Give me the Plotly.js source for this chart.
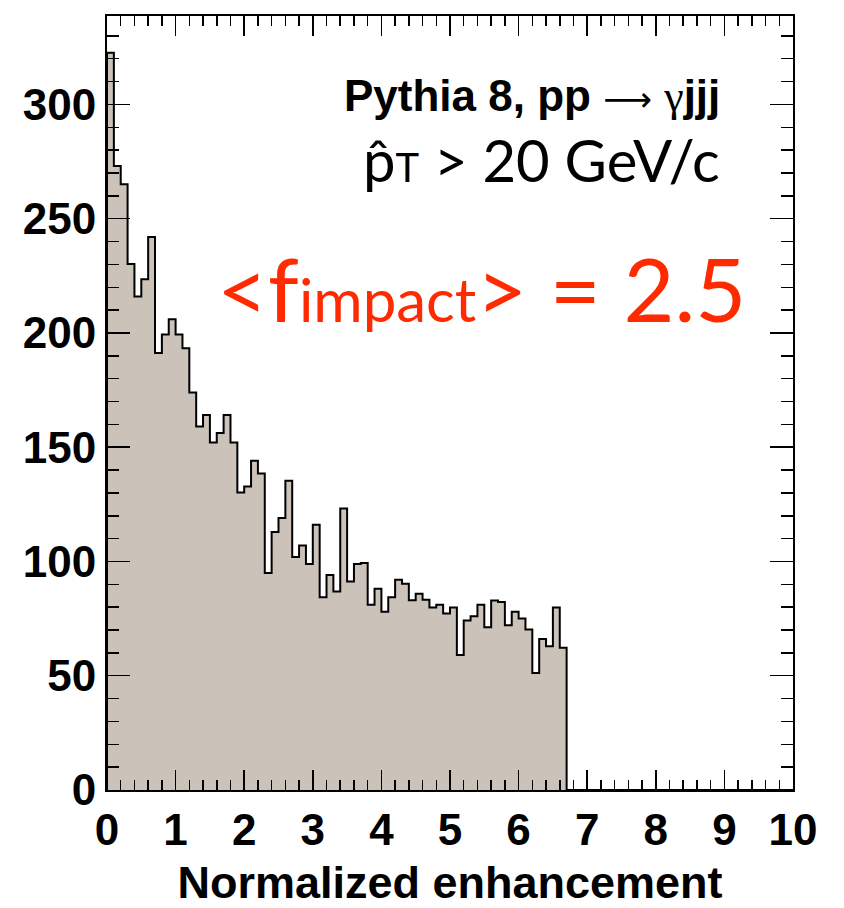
<!DOCTYPE html>
<html>
<head>
<meta charset="utf-8">
<script src="https://cdn.plot.ly/plotly-3.0.1.min.js"></script>
<style>html,body{margin:0;padding:0;background:#fff;}#chart{width:844px;height:908px;}</style>
</head>
<body>
<div id="chart"></div>
<script>
// Histogram: 100 bins of width 0.1 on [0,10]; contents of the filled bins (0 .. 6.7)
const binWidth = 0.1;
const xMin = 0;
const xMax = 10;
const counts = [
  322.6, 273.1, 265.1, 230.2, 215.9, 223.5, 242.0, 191.2, 199.3, 206.0,
  199.3, 193.3, 173.9, 159.1, 164.1, 152.1, 156.2, 164.1, 152.1, 130.2,
  132.8, 144.1, 138.5, 95.0, 112.9, 119.0, 135.3, 102.0, 107.0, 98.9,
  116.1, 84.3, 94.1, 86.9, 123.2, 91.2, 98.9, 99.3, 81.1, 88.1,
  78.0, 84.3, 92.0, 90.2, 83.0, 85.9, 83.3, 79.9, 81.1, 77.2,
  79.9, 59.1, 74.2, 76.0, 81.1, 71.2, 82.9, 82.3, 72.1, 78.0,
  75.1, 70.2, 51.2, 66.1, 62.9, 79.9, 62.2
];
const xTickVals = [0,1,2,3,4,5,6,7,8,9,10];
const xTickText = ['0','1','2','3','4','5','6','7','8','9','10'];
const yTickVals = [0,50,100,150,200,250,300];
const yTickText = ['0','50','100','150','200','250','300'];
const yMax = 338.7;

// Build step outline from bin edges
const xs = [xMin];
const ys = [0];
counts.forEach((c, i) => { xs.push(xMin + i * binWidth); ys.push(c); });
xs.push(xMin + counts.length * binWidth); ys.push(0);
xs.push(xMax); ys.push(0);

const trace = {
  type: 'scatter', mode: 'lines',
  x: xs, y: ys,
  line: {shape: 'hv', color: '#000', width: 2},
  fill: 'tozeroy', fillcolor: '#cbc3ba',
  hoverinfo: 'skip', showlegend: false
};

const tickFont = {family: 'Liberation Sans, Arial, sans-serif', size: 44, color: '#000', weight: 'bold'};

const layout = {
  width: 844, height: 908,
  margin: {l: 107, r: 51, t: 16, b: 117.5, pad: 0},
  paper_bgcolor: '#fff', plot_bgcolor: '#fff',
  showlegend: false,
  xaxis: {
    range: [xMin, xMax], tickvals: xTickVals, ticktext: xTickText,
    ticks: 'inside', ticklen: 20, tickwidth: 1.5, tickcolor: '#000',
    minor: {dtick: 0.2, ticks: 'inside', ticklen: 10, tickwidth: 1.5, tickcolor: '#000', showgrid: false},
    showline: true, linecolor: '#000', linewidth: 2, mirror: 'allticks',
    showgrid: false, zeroline: false, tickfont: tickFont,
    title: {text: 'Normalized enhancement', font: {family: 'Liberation Sans, Arial, sans-serif', size: 45, color: '#000', weight: 'bold'}, standoff: 27}
  },
  yaxis: {
    range: [0, yMax], tickvals: yTickVals, ticktext: yTickText,
    ticks: 'inside', ticklen: 23, tickwidth: 1.5, tickcolor: '#000',
    minor: {dtick: 10, ticks: 'inside', ticklen: 12, tickwidth: 1.5, tickcolor: '#000', showgrid: false},
    showline: true, linecolor: '#000', linewidth: 2, mirror: 'allticks',
    showgrid: false, zeroline: false, tickfont: tickFont
  },
  annotations: [
    {xref: 'x', yref: 'y', x: 8.96, y: 303.5, xanchor: 'right', yanchor: 'middle', showarrow: false,
     text: '<b>Pythia 8, pp</b> <span style="font-family:DejaVu Sans, sans-serif;font-size:34px">⟶</span> <span style="font-family:Liberation Serif, serif">γ</span><b>jjj</b>',
     font: {family: 'Liberation Sans, Arial, sans-serif', size: 44, color: '#000'}},
    {xref: 'x', yref: 'y', x: 8.96, y: 275.7, xanchor: 'right', yanchor: 'middle', showarrow: false,
     text: 'p\u0302<span style="font-size:40px">T</span> > 20 GeV/c',
     font: {family: 'Lato, sans-serif', size: 58, color: '#000'}},
    {xref: 'x', yref: 'y', x: 9.34, y: 219.7, xanchor: 'right', yanchor: 'middle', showarrow: false,
     text: '&lt;f<span style="font-size:60px">impact</span>&gt; = 2.5',
     font: {family: 'Lato, sans-serif', size: 88, color: '#ff2a00'}}
  ]
};

Plotly.newPlot('chart', [trace], layout, {staticPlot: true, displayModeBar: false});
</script>
</body>
</html>
